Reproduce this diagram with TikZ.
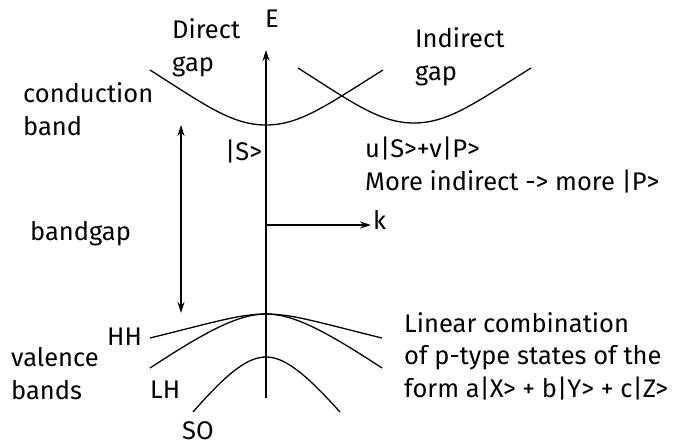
\documentclass[tikz,border=0pt]{standalone}
\usepackage{fontspec}
\setmainfont{Fira Sans}
\usetikzlibrary{arrows.meta}
\begin{document}
\begin{tikzpicture}[x=1pt,y=-1pt,
  band/.style={line width=1.3pt},
  axis/.style={line width=1.3pt,-{Stealth[length=11pt,width=7pt]}},
  lbl/.style={font=\fontsize{25.5}{32.5}\selectfont,inner sep=0pt,align=left,anchor=base west}]
\useasboundingbox (0,0) rectangle (686,445);
% axes
\coordinate (o) at (266,398);
\coordinate (etop) at (266,50);
\coordinate (korig) at (266,225);
\coordinate (kend) at (371,225);
\draw[axis] (o) -- (etop);
\draw[axis] (korig) -- (kend);
\node[lbl] (E) at (265,27) {E};
\node[lbl] (k) at (373,229) {k};
% conduction bands
\coordinate (d1) at (150,70); \coordinate (d0) at (266,125); \coordinate (d2) at (383,70);
\draw[band] (d1) .. controls (205,105) and (232,125) .. (d0) .. controls (300,125) and (327,105) .. (d2);
\coordinate (i1) at (298,68); \coordinate (i0) at (414,123); \coordinate (i2) at (531,68);
\draw[band] (i1) .. controls (353,103) and (380,123) .. (i0) .. controls (448,123) and (475,103) .. (i2);
% bandgap arrow
\coordinate (g1) at (181,125); \coordinate (g2) at (181,313);
\draw[line width=1.3pt,{Stealth[length=11pt,width=7pt]}-{Stealth[length=11pt,width=7pt]}] (g2) -- (g1);
% valence bands
\coordinate (v0) at (266,314);
\coordinate (hh1) at (150,338); \coordinate (hh2) at (382,338);
\coordinate (lh1) at (150,368); \coordinate (lh2) at (382,368);
\coordinate (so1) at (193,412); \coordinate (so0) at (266,357); \coordinate (so2) at (340,412);
\draw[band] (hh1) .. controls (215,322) and (240,314) .. (v0) .. controls (292,314) and (317,322) .. (hh2);
\draw[band] (lh1) .. controls (205,332) and (238,314) .. (v0) .. controls (294,314) and (327,332) .. (lh2);
\draw[band] (so1) .. controls (228,372) and (248,357) .. (so0) .. controls (284,357) and (304,372) .. (so2);
% labels (multi-line nodes: base = last line)
\node[lbl] (direct) at (172,71) {Direct\\gap};
\node[lbl] (indirect) at (415,80) {Indirect\\gap};
\node[lbl] (cond) at (23,135) {conduction\\band};
\node[lbl] (S) at (225,160) {|S>};
\node[lbl] (uv) at (365,190) {u|S>+v|P>\\More indirect -> more |P>};
\node[lbl] (gap) at (30,240) {bandgap};
\node[lbl] (HH) at (107,345) {HH};
\node[lbl] (val) at (11,399) {valence\\bands};
\node[lbl] (LH) at (150,398) {LH};
\node[lbl] (SO) at (182,439) {SO};
\node[lbl] (lin) at (404,397) {Linear combination\\of p-type states of the\\form a|X> + b|Y> + c|Z>};
\end{tikzpicture}
\end{document}
